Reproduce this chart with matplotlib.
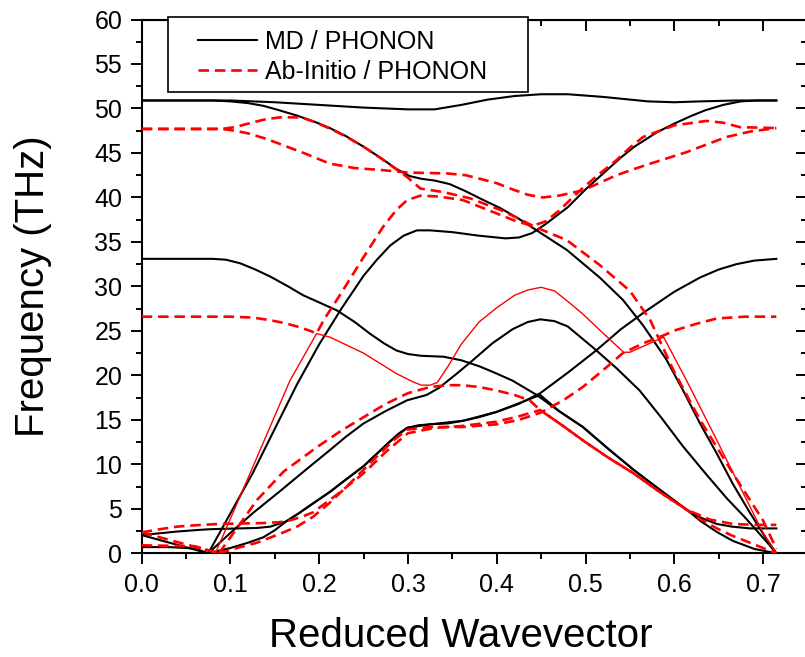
import numpy as np
import matplotlib.pyplot as plt
from matplotlib.ticker import MultipleLocator
from matplotlib.patches import Rectangle

plt.rcParams['font.family'] = ['Liberation Sans', 'DejaVu Sans']

# ---- MD / PHONON (black) ----
md_top_x = [0, 0.05, 0.1, 0.15, 0.2, 0.25, 0.3, 0.33, 0.36, 0.39, 0.42, 0.45, 0.48, 0.52, 0.55, 0.57, 0.6, 0.63, 0.67, 0.715]
md_top_y = [50.9, 50.9, 50.9, 50.7, 50.4, 50.1, 49.9, 49.9, 50.4, 51.0, 51.4, 51.6, 51.6, 51.3, 51.0, 50.8, 50.7, 50.8, 50.9, 50.9]

md_opt1_x = [0, 0.08, 0.1, 0.12, 0.137, 0.155, 0.175, 0.195, 0.212, 0.23, 0.25, 0.27, 0.287, 0.302, 0.315, 0.33, 0.347, 0.365, 0.381, 0.404, 0.425, 0.445, 0.479, 0.516, 0.542, 0.565, 0.591, 0.61, 0.629, 0.648, 0.666, 0.685, 0.704, 0.715]
md_opt1_y = [50.9, 50.9, 50.8, 50.6, 50.3, 49.8, 49.2, 48.5, 47.8, 46.9, 45.7, 44.4, 43.2, 42.4, 42.1, 41.9, 41.5, 40.7, 39.9, 38.8, 37.6, 36.3, 34.1, 31.0, 28.5, 25.6, 21.8, 18.3, 14.6, 11.2, 7.8, 4.6, 1.6, 0]

md_opt2_x = [0.075, 0.1, 0.125, 0.15, 0.175, 0.2, 0.225, 0.25, 0.265, 0.28, 0.295, 0.31, 0.325, 0.35, 0.38, 0.41, 0.425, 0.44, 0.455, 0.48, 0.5, 0.52, 0.54, 0.555, 0.58, 0.6, 0.62, 0.635, 0.655, 0.675, 0.695, 0.715]
md_opt2_y = [0, 4.5, 9.0, 14.0, 19.0, 23.5, 27.5, 31.2, 33.0, 34.6, 35.7, 36.3, 36.3, 36.1, 35.7, 35.4, 35.5, 36.0, 37.0, 38.9, 40.9, 42.7, 44.5, 45.7, 47.3, 48.3, 49.2, 49.8, 50.4, 50.8, 50.9, 50.9]

md_mid_x = [0, 0.08, 0.095, 0.111, 0.128, 0.145, 0.165, 0.182, 0.2, 0.22, 0.24, 0.257, 0.273, 0.287, 0.3, 0.315, 0.34, 0.36, 0.381, 0.4, 0.418, 0.445, 0.47, 0.497, 0.525, 0.554, 0.575, 0.591, 0.614, 0.63, 0.648, 0.665, 0.685, 0.715]
md_mid_y = [33.1, 33.1, 33.0, 32.6, 31.9, 31.1, 30.0, 29.0, 28.2, 27.3, 26.0, 24.7, 23.6, 22.8, 22.4, 22.2, 22.1, 21.7, 21.0, 20.2, 19.4, 17.8, 16.0, 14.2, 11.8, 9.4, 7.8, 6.6, 4.9, 4.0, 3.3, 3.0, 2.8, 2.8]

md_ta_x = [0.075, 0.1, 0.12, 0.137, 0.15, 0.163, 0.177, 0.19, 0.212, 0.23, 0.25, 0.265, 0.28, 0.29, 0.299, 0.312, 0.325, 0.345, 0.362, 0.38, 0.4, 0.425, 0.449, 0.48, 0.512, 0.54, 0.569, 0.6, 0.629, 0.65, 0.67, 0.69, 0.715]
md_ta_y = [0, 0.6, 1.2, 1.8, 2.6, 3.6, 4.5, 5.4, 6.9, 8.3, 9.8, 11.2, 12.6, 13.5, 14.1, 14.4, 14.5, 14.6, 14.9, 15.3, 15.9, 16.8, 18.0, 20.3, 22.8, 25.2, 27.3, 29.4, 31.0, 31.9, 32.5, 32.9, 33.1]

md_la_x = [0.075, 0.1, 0.125, 0.156, 0.185, 0.212, 0.23, 0.25, 0.275, 0.299, 0.31, 0.321, 0.335, 0.355, 0.373, 0.395, 0.418, 0.435, 0.449, 0.465, 0.48, 0.51, 0.535, 0.561, 0.585, 0.61, 0.635, 0.659, 0.68, 0.704, 0.715]
md_la_y = [0, 2.3, 4.5, 7.0, 9.4, 11.6, 13.1, 14.6, 16.0, 17.2, 17.5, 17.8, 18.6, 20.2, 21.7, 23.6, 25.2, 26.0, 26.3, 26.1, 25.5, 23.0, 20.8, 18.3, 15.3, 12.0, 9.0, 6.2, 4.0, 1.3, 0]

md_low_x = [0, 0.02, 0.04, 0.06, 0.075, 0.09, 0.11, 0.13, 0.145, 0.163, 0.177, 0.19, 0.212, 0.25, 0.28, 0.299, 0.325, 0.362, 0.4, 0.449, 0.47, 0.497, 0.525, 0.554, 0.575, 0.591, 0.614, 0.63, 0.648, 0.666, 0.69, 0.715]
md_low_y = [2.05, 2.25, 2.45, 2.6, 2.7, 2.75, 2.8, 2.85, 3.0, 3.6, 4.5, 5.4, 6.9, 9.8, 12.6, 14.1, 14.5, 14.9, 15.9, 17.8, 16.0, 14.2, 11.8, 9.4, 7.8, 6.6, 4.9, 3.6, 2.4, 1.4, 0.5, 0]

md_x1_x = [0, 0.075]
md_x1_y = [2.05, 0]
md_x2_x = [0, 0.03, 0.06, 0.075]
md_x2_y = [0.7, 0.7, 0.55, 0]

# ---- Ab-Initio / PHONON (red) ----
ab_a_x = [0, 0.09, 0.105, 0.12, 0.14, 0.156, 0.18, 0.197, 0.215, 0.231, 0.25, 0.268, 0.285, 0.299, 0.314, 0.34, 0.37, 0.404, 0.425, 0.445, 0.479, 0.516, 0.55, 0.573, 0.599, 0.629, 0.666, 0.7, 0.715]
ab_a_y = [47.7, 47.7, 47.9, 48.3, 48.8, 49.0, 49.0, 48.4, 47.6, 46.8, 45.7, 44.5, 43.3, 42.3, 41.0, 40.6, 39.9, 38.6, 37.6, 36.6, 35.2, 32.4, 29.5, 26.2, 20.6, 15.0, 9.0, 3.7, 0.5]

ab_u_x = [0, 0.09, 0.105, 0.12, 0.14, 0.156, 0.185, 0.212, 0.24, 0.268, 0.3, 0.344, 0.365, 0.381, 0.4, 0.418, 0.435, 0.452, 0.47, 0.497, 0.515, 0.535, 0.555, 0.573, 0.595, 0.614, 0.635, 0.659, 0.685, 0.715]
ab_u_y = [47.7, 47.7, 47.5, 47.2, 46.6, 46.0, 44.9, 43.8, 43.3, 43.1, 42.8, 42.7, 42.5, 42.1, 41.6, 40.9, 40.3, 40.0, 40.2, 40.8, 41.6, 42.5, 43.2, 43.8, 44.5, 45.1, 45.9, 46.8, 47.4, 47.8]

ab_b_x = [0, 0.1, 0.125, 0.145, 0.16, 0.175, 0.19, 0.197, 0.205, 0.227, 0.25, 0.272, 0.287, 0.299, 0.314, 0.335, 0.362, 0.4, 0.42, 0.44, 0.455, 0.47, 0.494, 0.515, 0.535, 0.55, 0.565, 0.6, 0.636, 0.655, 0.674, 0.715]
ab_b_y = [26.6, 26.6, 26.5, 26.2, 25.9, 25.5, 25.0, 24.7, 26.2, 29.6, 33.3, 36.7, 38.6, 39.7, 40.2, 40.1, 39.7, 38.2, 37.4, 36.8, 37.3, 38.5, 40.8, 42.6, 44.2, 45.6, 46.8, 48.1, 48.6, 48.4, 47.9, 47.8]

ab_thin_x = [0.083, 0.12, 0.167, 0.197, 0.212, 0.25, 0.287, 0.305, 0.315, 0.325, 0.333, 0.345, 0.36, 0.38, 0.4, 0.42, 0.435, 0.45, 0.465, 0.479, 0.497, 0.516, 0.543, 0.55, 0.588, 0.614, 0.648, 0.674, 0.7, 0.715]
ab_thin_y = [0, 8.5, 19.4, 24.7, 24.3, 22.5, 20.2, 19.3, 18.9, 18.9, 19.2, 21.0, 23.5, 26.0, 27.6, 29.0, 29.6, 29.9, 29.5, 28.4, 26.9, 25.1, 22.6, 22.6, 24.3, 19.4, 12.7, 7.5, 2.3, 0]

ab_ta_x = [0.087, 0.1, 0.13, 0.156, 0.175, 0.193, 0.212, 0.231, 0.25, 0.268, 0.285, 0.299, 0.325, 0.362, 0.4, 0.425, 0.449, 0.475, 0.497, 0.52, 0.542, 0.565, 0.588, 0.602, 0.625, 0.648, 0.68, 0.715]
ab_ta_y = [0, 0.4, 1.2, 2.2, 3.0, 4.1, 5.7, 7.5, 9.4, 11.2, 12.8, 13.9, 14.2, 14.2, 14.5, 15.0, 15.8, 17.2, 18.7, 20.6, 22.5, 23.6, 24.5, 25.1, 25.8, 26.4, 26.6, 26.6]

ab_la_x = [0.087, 0.1, 0.115, 0.13, 0.16, 0.197, 0.225, 0.25, 0.275, 0.3, 0.325, 0.345, 0.36, 0.38, 0.4, 0.42, 0.437, 0.449, 0.475, 0.497, 0.525, 0.554, 0.585, 0.614, 0.64, 0.666, 0.69, 0.715]
ab_la_y = [0, 1.8, 3.9, 6.0, 9.2, 11.9, 13.8, 15.3, 16.8, 18.0, 18.7, 18.9, 18.9, 18.7, 18.3, 17.8, 17.2, 16.1, 14.3, 12.7, 10.8, 9.0, 6.8, 4.9, 3.8, 3.3, 3.2, 3.2]

ab_low_x = [0, 0.02, 0.04, 0.06, 0.087, 0.11, 0.137, 0.155, 0.167, 0.18, 0.193, 0.22, 0.25, 0.275, 0.3, 0.33, 0.36, 0.4, 0.425, 0.449, 0.475, 0.497, 0.525, 0.554, 0.585, 0.614, 0.63, 0.648, 0.665, 0.685, 0.7, 0.715]
ab_low_y = [2.35, 2.7, 3.0, 3.15, 3.3, 3.35, 3.4, 3.5, 3.7, 4.1, 4.6, 6.6, 9.0, 11.4, 13.5, 14.1, 14.3, 14.8, 15.4, 16.1, 14.3, 12.7, 10.8, 9.0, 6.8, 4.9, 3.8, 2.8, 2.0, 1.2, 0.6, 0]

ab_x1_x = [0, 0.087]
ab_x1_y = [2.35, 0]
ab_x2_x = [0, 0.06, 0.087]
ab_x2_y = [0.9, 0.8, 0]

md_curves = [(md_top_x, md_top_y), (md_opt1_x, md_opt1_y), (md_opt2_x, md_opt2_y),
             (md_mid_x, md_mid_y), (md_ta_x, md_ta_y), (md_la_x, md_la_y),
             (md_low_x, md_low_y), (md_x1_x, md_x1_y), (md_x2_x, md_x2_y)]
ab_dashed = [(ab_a_x, ab_a_y), (ab_u_x, ab_u_y), (ab_b_x, ab_b_y), (ab_ta_x, ab_ta_y),
             (ab_la_x, ab_la_y), (ab_low_x, ab_low_y), (ab_x1_x, ab_x1_y), (ab_x2_x, ab_x2_y)]

fig = plt.figure(figsize=(8.05, 6.57), dpi=100)
ax = fig.add_axes([0.176, 0.1578, 0.827, 0.8125])

for i, (x, y) in enumerate(md_curves):
    ax.plot(x, y, color='black', linewidth=1.5, label='MD / PHONON' if i == 0 else None, zorder=2)
for i, (x, y) in enumerate(ab_dashed):
    ax.plot(x, y, color='red', linewidth=1.9, dashes=(4, 2.2),
            label='Ab-Initio / PHONON' if i == 0 else None, zorder=3)
ax.plot(ab_thin_x, ab_thin_y, color='red', linewidth=1.0, zorder=3)

ax.set_xlim(0, 0.75)
ax.set_ylim(0, 60)
ax.xaxis.set_minor_locator(MultipleLocator(0.05))
ax.yaxis.set_major_locator(MultipleLocator(5))
ax.yaxis.set_minor_locator(MultipleLocator(2.5))
ax.set_xticks([0, 0.1, 0.2, 0.3, 0.4, 0.5, 0.6, 0.7])
ax.set_xticklabels(['0.0', '0.1', '0.2', '0.3', '0.4', '0.5', '0.6', '0.7'])

ax.tick_params(which='major', direction='out', length=8, width=1.4, labelsize=18, pad=6)
ax.tick_params(which='minor', direction='out', length=4.5, width=1.4)
ax.tick_params(axis='y', which='major', pad=6)
for s in ax.spines.values():
    s.set_linewidth(1.5)

top = ax.secondary_xaxis('top')
top.xaxis.set_major_locator(MultipleLocator(0.1))
top.xaxis.set_minor_locator(MultipleLocator(0.05))
top.tick_params(which='major', direction='in', length=8, width=1.4, labeltop=False)
top.tick_params(which='minor', direction='in', length=4.5, width=1.4)
right = ax.secondary_yaxis('right')
right.yaxis.set_major_locator(MultipleLocator(5))
right.yaxis.set_minor_locator(MultipleLocator(2.5))
right.tick_params(which='major', direction='in', length=8, width=1.4, labelright=False)
right.tick_params(which='minor', direction='in', length=4.5, width=1.4)

ax.set_xlabel('Reduced Wavevector', fontsize=29)
ax.set_ylabel('Frequency (THz)', fontsize=29)
ax.xaxis.set_label_coords(0.48, -0.12)
ax.yaxis.set_label_coords(-0.135, 0.5)

# legend box
ax.add_patch(Rectangle((0.0395, 0.864), 0.5405, 0.14, transform=ax.transAxes,
                       facecolor='white', edgecolor='black', linewidth=1.2, zorder=4, clip_on=False))
leg = ax.legend(loc='upper left', bbox_to_anchor=(0.0845, 0.9805), frameon=False,
                fontsize=18, handlelength=2.36, handletextpad=0.32, labelspacing=0.25,
                borderpad=0, borderaxespad=0)
leg.set_zorder(5)

fig.savefig('out.png', dpi=100)
